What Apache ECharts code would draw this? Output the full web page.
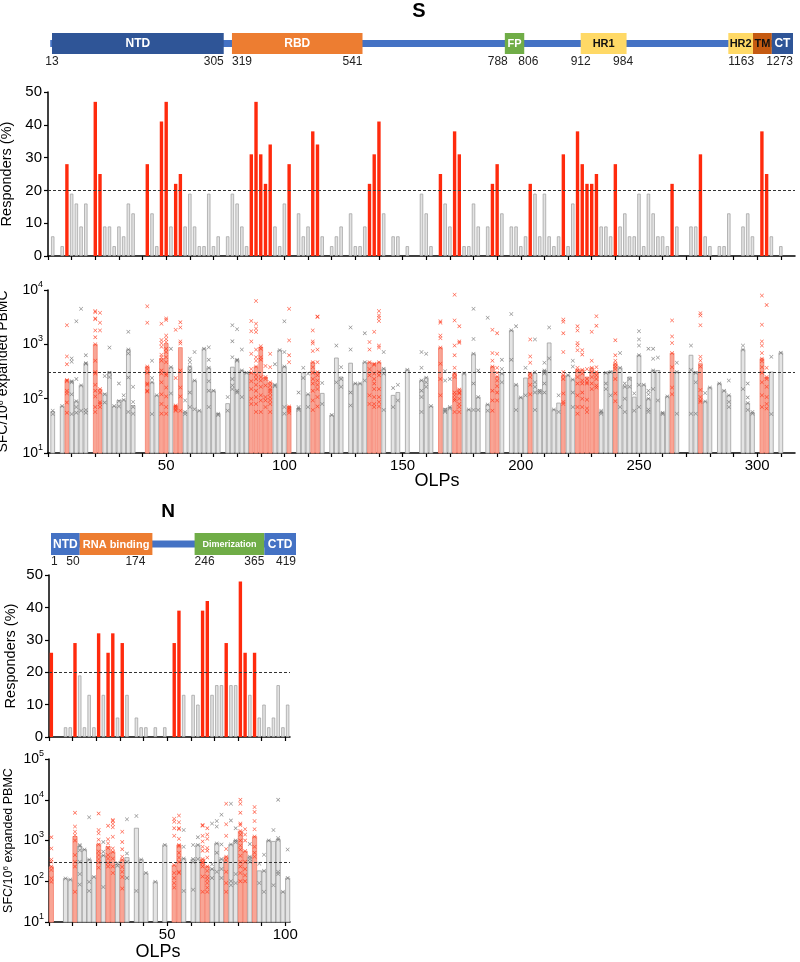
<!DOCTYPE html>
<html><head><meta charset="utf-8">
<script src="https://cdn.jsdelivr.net/npm/echarts@6/dist/echarts.min.js"></script>
<style>html,body{margin:0;padding:0;background:#fff}#c{width:800px;height:962px}</style>
</head><body><div id="c"></div><script>
// ---------------- S protein data ----------------
const sOlp = [2,6,8,10,12,14,16,20,22,24, 26,28,30,32,34,36,42,44,46,48, 50,52,54,56,58,60,62,64,66,68,
  70,72,76,78,80,82,84,86,88,90, 92,94,96,98,100,102,106,108,110,112, 114,116,120,122,124,128,130,132,134,136,
  138,140,142,146,148,152,
  158,160,162,166,168,170,172,174,176,178, 180,182,186,188,190,192,196,198,200,202, 204,206,208,210,212,214,216,218,220,222,
  224,226,228,230,232,234,236,238,240,242, 244,246,248,250,252,254,256,258,260,262, 264,266,272,274,276,278,280,284,286,288,
  294,296,298,302,304,306,310];
const sResp = [6,3,28,19,16,9,16,47,25,9, 9,3,9,6,16,13,28,13,3,41, 47,9,22,25,9,19,9,3,3,19,
  3,6,6,19,16,9,3,31,47,31, 22,34,9,3,16,28,13,6,9,38, 34,6,3,6,9,13,3,3,9,22,
  31,41,13,6,6,3,
  19,13,3,25,16,9,38,31,3,3, 16,9,9,22,28,13,9,9,3,6, 22,19,6,19,6,3,6,31,3,16,
  38,28,22,22,25,9,9,6,28,9, 13,6,6,19,3,19,13,6,6,3, 22,9,9,9,31,6,3,3,3,13,
  9,13,6,38,25,6,3];
const sSfcBar = [58,73,224,210,90,176,450,1000,150,123, 310,73,93,95,800,75,390,200,115,545,
  1030,380,75,870,57,390,215,60,830,370, 140,53,81,380,520,330,300,300,390,890,
  250,200,180,780,390,72,66,300,120,470, 310,125,50,560,250,450,190,190,470,470,
  440,470,355,115,130,340,
  217,243,73,870,66,70,290,150,290,63, 670,107,78,390,255,290,1810,180,105,240,
  290,290,145,330,1060,63,83,270,270,225, 340,340,250,370,310,57,300,320,440,370,
  170,250,107,630,180,100,330,330,55,110, 690,310,630,310,440,89,160,190,140,115,
  800,83,55,545,250,310,700];
const sSfcPts = [
  [60,52],[73],[2250,600,430,220,210,140,125,85,55],[550,480,210,200,120,52],[2650,230,90,70,55],
  [4500,175,60],[630,450,440,62,55],[4100,3900,3000,2900,1800,1350,1000,500,310,290,180,140,110,70,57],
  [3800,2500,1800,150,130,86,80,70],[260,120,85],
  [870,300,250],[73],[190,90,72],[115,95],[1700,800,680,245,57],[165,87,70,53],
  [5000,2500,390,350,300,190,180,140,135],[500,240,200,52],[115],
  [2400,1200,1050,900,640,580,500,330,290,200,120,80,53],
  [3000,2800,1450,1250,1100,830,720,580,470,290,270,160,110,70,53],[830,380,125],
  [1850,240,75,72,68,63,60],[2550,2050,1130,1040,330,160,110,60],[93,57,52],[545,470,390,330,130,70],
  [720,215,64],[60],[830],[880,520,370,210,140,70],
  [140],[53,50],[107,60],[2250,1140,580,230,175,150],[1900,520,500,140,130],[800,330,107],[300],
  [2700,1750,1130,670,350,300,210,150,100,80],
  [6300,2400,1950,1680,800,580,500,390,270,230,180,140,107,80,57],
  [920,830,580,520,250,215,165,115,93,57],
  [400,250,230,175,107,93,70],[670,380,200,175,150,140,125,107,93,80,57],[430,180,170],[780],
  [2650,720,390,70,53],[4500,1180,630,470,72,68,64,60,55],[130,70,66,62],[370,240],[290,120,70],
  [1800,1130,1040,750,470,380,300,230,190,140,93,62],
  [3250,3200,800,470,310,270,215,180,150,107,72],[195,80],[50],[950,200],[380,230,165],[2050,800,130,75],
  [190],[190],[1600,470,215],[1100,800,470,350,270,115,80],
  [1700,440,420,290,230,190,150,107,80,70],[4100,3400,3100,2700,950,870,470,310,270,150,107,87,72],
  [720,355,290,62],[157,70],[180,93],[340],
  [720,370,217,140,107,57],[670,243,200,165],[73],[2650,2500,1450,1300,870,440,230,115],[320,215,63,60,57],
  [230,70,66],[8200,2750,950,630,370,290,250,130,115,100,93,57],[2150,1130,1070,147,130,125,100,80,70,57],
  [290],[63],
  [4500,1260,670,190,62],[330,107,62],[3100,78,60],[1850,690,500,390,140,93,60],
  [1600,670,370,300,255,215,170,130,93],[520,350,290,200],[3600,1810,520],[2150,180,62],[105],[370,115],
  [1230,600,460,290,250,180,120],[1230,310,200,165,130,62],[140,130],[460,330,310,290,190,130],[2050,550],
  [63],[115,57],[2850,2600,1600,720,310,270,230,125,87,80],[270],[500,390,225,130,70],
  [2150,1800,1060,950,780,370,330,250,190,115,70,53],[780,650,340,290,215,190,130,100,70],
  [350,230,200,190,96,66,57],[1700,500,370,310,250,190,150],[3300,2200,380,310,270,230,175,160],
  [60,57,53],[300,190,150],[310,115],[1190,630,500,440,390,350,230,125,90],[690,370,70],
  [190,165,100,57],[230,165],[125,60],[1750,1230,950,630,180,70],[180],[830,140,120,100,63,57],
  [830,545,330,150],[570,93],[55,52],[110],
  [2750,1400,1060,690,380,160,120],[460,310,53],[950,340,53],[300,200,53],
  [3750,3400,2250,590,500,390,145,107,93,87],[127,89],[160],[190],[140],[215,115,87,70],
  [950,800,150],[190,105,83,62],[57,53],[7900,2300,1130,950,690,545,490,380,300,200,115,70],
  [5300,370,250,230,165,107,80,66],[590,52],[700]
];
// ---------------- N protein data ----------------
const nOlp = [1,7,9,11,13,15,17,19,21,23, 25,27,29,31,33,37,39,41,45,49, 53,55,57,61,63,65,67,69,71,73,
  75,77,79,81,83,85,87,89,91,93, 95,97,99,101];
const nResp = [26,3,3,29,19,3,13,3,32,13, 26,32,6,29,13,6,3,3,3,3, 29,39,13,13,10,39,42,13,16,16,
  29,16,16,48,26,13,26,6,10,3, 6,16,3,10];
const nSfcBar = [227,117,110,1250,730,600,340,128,820,430, 710,530,260,340,380,2000,340,160,97,780,
  250,780,360,350,780,350,230,200,850,350, 400,800,1000,1700,550,400,1250,180,180,1000, 950,1050,55,120];
const nSfcPts = [
  [1200,640,340,300,230,190,118,97],[117],[110],[4800,2200,1650,1350,1000,440,300,230,55],
  [780,730,580,300,150,83],[600],[3700,340,97,58],[128],[4600,1800,1500,1050,800,540,440,350,290,215],
  [920,530,430,72],
  [2300,1070,850,650,440,360,280,230],[3200,3000,2550,2100,1230,640,530,360,230,160],[280,240],
  [1650,920,610,400,340,225,170,128,66],[3300,480,300,120],[4000,58],[340],[160],[97],[780],
  [3400,2900,2000,1300,250,160,120,90,70],[4100,2800,2000,1900,1100,780,720,500,380,300,170,160],
  [1800,700,360,58],[780,350,300,62],[1200,780,350],[2400,2300,1300,950,700,560,350,300,280,230,130,55],
  [2000,1400,1100,650,560,380,230,180,130,110,90,70,55],[2600,260,200,120],[3000,2200,850,500,170],
  [4300,800,350,200,120],
  [8000,2500,1300,620,400,330,170,90,55],[8000,3100,800,100,80],[2000,1000,900,150,90],
  [10000,8000,4800,2600,2400,1700,1400,1000,750,600,420,300,230,160,100],
  [1900,1400,1000,550,300,200,140,100],[820,400,350,300],[6600,5000,3000,1900,1250,700,500,400],
  [270,90],[450,180,55],[1000],
  [1800,80],[10000,1150,1050,170,150],[55],[600,120]
];
// ---------------- domain maps ----------------
const sDomainName = ['NTD','RBD','FP','HR1','HR2','TM','CT'];
const sDomainStart = [13,319,783,912,1163,1205,1237];
const sDomainEnd = [305,541,816,990,1205,1237,1273];
const sBackbone = [10,1273];
const sPosLabels = [13,305,319,541,788,806,912,984,1163,1273];
const nDomainName = ['NTD','RNA binding','Dimerization','CTD'];
const nDomainStart = [1,50,246,365];
const nDomainEnd = [50,174,365,419];
const nBackbone = [1,419];
const nPosLabels = [1,50,174,246,365,419];
// ticks
const sTicks = [0,10,20,30,40,50,60,70,80,90,100,110,120,130,140,150,160,170,180,190,200,210,220,230,240,250,260,270,280,290,300,310];
const sTickLabels = [50,100,150,200,250,300];
const nTicks = [0,10,20,30,40,50,60,70,80,90,100];
const nTickLabels = [50,100];
const respThreshold = 20, sfcThreshold = 300;

// ---------------- styles ----------------
const FONT = '"Liberation Sans", Arial, Helvetica, sans-serif';
const sDomainFill = ['#2f5597','#ed7d31','#70ad47','#ffd966','#ffd966','#c55a11','#2f5597'];
const sDomainTextColor = ['#fff','#fff','#fff','#111','#111','#111','#fff'];
const sDomainFont = [12,12,11,11,11,11,12];
const sPosAlign = ['center','right','left','right','right','left','center','center','left','right'];
const nDomainFill = ['#4472c4','#ed7d31','#70ad47','#4472c4'];
const nDomainTextColor = ['#fff','#fff','#fff','#fff'];
const nDomainFont = [12,11,9,12];
const nPosAlign = ['left','right','right','left','right','right'];
const nPosShift = [0,0,-7,0,0,0];
const sPosShift = [0,0,0,0,0,0,0,0,0,0];
const X_PATH = 'path://M1,0L5,4L9,0L10,1L6,5L10,9L9,10L5,6L1,10L0,9L4,5L0,1Z';
const RED = '#ff2a0d';

const chart = echarts.init(document.getElementById('c'), null, {renderer:'canvas'});

function domainSeries(xi, starts, ends, names, fills, tcol, fsz) {
  return {type:'custom', xAxisIndex:xi, yAxisIndex:xi, z:3, silent:true,
    data: starts.map((s,i)=>[s, ends[i], i]),
    renderItem:(p, api)=>{
      const i = api.value(2);
      const a = api.coord([api.value(0),1]), b = api.coord([api.value(1),0]);
      return {type:'group', children:[
        {type:'rect', shape:{x:a[0], y:a[1], width:b[0]-a[0], height:b[1]-a[1]}, style:{fill:fills[i]}},
        {type:'text', x:(a[0]+b[0])/2, y:(a[1]+b[1])/2+0.5, style:{text:names[i], fill:tcol[i],
          font:'bold '+fsz[i]+'px '+FONT, align:'center', verticalAlign:'middle'}}
      ]};
    }};
}
function backboneSeries(xi, bb, color) {
  return {type:'custom', xAxisIndex:xi, yAxisIndex:xi, z:2, silent:true, data:[[bb[0], bb[1]]],
    renderItem:(p, api)=>{
      const a = api.coord([api.value(0),0.5]), b = api.coord([api.value(1),0.5]);
      return {type:'rect', shape:{x:a[0], y:a[1]-3.5, width:b[0]-a[0], height:7}, style:{fill:color}};
    }};
}
function posLabelSeries(xi, vals, aligns, shifts, dy) {
  return {type:'custom', xAxisIndex:xi, yAxisIndex:xi, z:3, silent:true, data: vals.map((v,i)=>[v,i]),
    renderItem:(p, api)=>{
      const i = api.value(1); const a = api.coord([api.value(0),0]);
      return {type:'text', x:a[0]+shifts[i], y:a[1]+dy, style:{text:String(api.value(0)), align:aligns[i],
        verticalAlign:'top', font:'12px '+FONT, fill:'#222'}};
    }};
}
function respSeries(xi, olp, resp, w) {
  return {type:'bar', xAxisIndex:xi, yAxisIndex:xi, barWidth:w, silent:true,
    data: olp.map((x,i)=>({value:[x, resp[i]], itemStyle: resp[i] > respThreshold ?
      {color:RED} : {color:'#e3e3e3', borderColor:'#a6a6a6', borderWidth:0.8}})),
    markLine:{silent:true, symbol:['none','none'], label:{show:false}, animation:false,
      lineStyle:{type:[3,2], color:'#333', width:1}, data:[{yAxis:respThreshold}]}};
}
function sfcBarSeries(xi, olp, bar, resp, w) {
  return {type:'custom', xAxisIndex:xi, yAxisIndex:xi, silent:true, z:2,
    data: olp.map((x,i)=>[x, bar[i], resp[i] > respThreshold ? 1 : 0]),
    renderItem:(p, api)=>{
      const t = api.coord([api.value(0), api.value(1)]);
      const b = api.coord([api.value(0), 10]);
      const red = api.value(2) === 1;
      return {type:'rect', shape:{x:t[0]-w/2, y:t[1], width:w, height:b[1]-t[1]},
        style:{fill: red ? '#f9a595' : '#e4e4e4', stroke: red ? '#f5806d' : '#a0a0a0', lineWidth:0.8}};
    }};
}
function ptsSeries(xi, olp, pts, resp, red, withLine) {
  const data = [];
  olp.forEach((x,i)=>{ if ((resp[i] > respThreshold) === red) pts[i].forEach(v=>data.push([x, v])); });
  const s = {type:'scatter', xAxisIndex:xi, yAxisIndex:xi, symbol:X_PATH, symbolSize:4, silent:true, z:5,
    itemStyle:{color: red ? RED : '#666'}, data};
  if (withLine) s.markLine = {silent:true, symbol:['none','none'], label:{show:false}, animation:false,
    lineStyle:{type:[3,2], color:'#333', width:1}, data:[{yAxis:sfcThreshold}]};
  return s;
}

const axisLineS = {show:true, onZero:false, lineStyle:{color:'#000', width:1.5}};
const tickS = {show:true, length:4, lineStyle:{color:'#000', width:1.2}};
function hiddenX(gi, min, max){ return {type:'value', gridIndex:gi, min, max, show:false}; }
function hiddenY(gi){ return {type:'value', gridIndex:gi, min:0, max:1, show:false}; }
function olpX(gi, max, ticks, labels, showLabels, fs) {
  return {type:'value', gridIndex:gi, min:0, max, splitLine:{show:false}, axisLine:axisLineS,
    axisTick:Object.assign({customValues:ticks}, tickS),
    axisLabel:{show:showLabels, customValues:labels, fontSize:fs, color:'#000', fontFamily:FONT, margin:5}};
}
function respY(gi, nameGap, fs) {
  return {type:'value', gridIndex:gi, min:0, max:50, interval:10, splitLine:{show:false},
    axisLine:axisLineS, axisTick:tickS,
    axisLabel:{fontSize:15, color:'#000', fontFamily:FONT, margin:6},
    name:'Responders (%)', nameLocation:'middle', nameGap, nameTextStyle:{fontSize:fs, color:'#000', fontFamily:FONT}};
}
function sfcY(gi, max, nameGap, fs) {
  return {type:'log', logBase:10, gridIndex:gi, min:10, max, splitLine:{show:false},
    axisLine:axisLineS, axisTick:tickS, minorTick:{show:false},
    axisLabel:{color:'#000', fontFamily:FONT, fontSize:14, lineHeight:20, margin:5,
      formatter:v=>'10{s|'+Math.round(Math.log10(v))+'}',
      rich:{s:{fontSize:9, verticalAlign:'top', lineHeight:10, fontFamily:FONT, color:'#000'}}},
    name:'SFC/10{s|6} expanded PBMC', nameLocation:'middle', nameGap,
    nameTextStyle:{fontSize:fs, color:'#000', fontFamily:FONT, lineHeight:fs+2,
      rich:{s:{fontSize:Math.round(fs*0.65), verticalAlign:'top', lineHeight:8, fontFamily:FONT, color:'#000'}}}};
}

const option = {
  animation:false,
  backgroundColor:'#fff',
  grid:[
    {left:52, right:7, top:33, height:21, containLabel:false, outerBoundsMode:'none'},
    {left:48, right:5, top:92, height:164, containLabel:false, outerBoundsMode:'none'},
    {left:48, right:5, top:290, height:163, containLabel:false, outerBoundsMode:'none'},
    {left:51, width:245, top:533, height:22, containLabel:false, outerBoundsMode:'none'},
    {left:49, width:241, top:575, height:162, containLabel:false, outerBoundsMode:'none'},
    {left:49, width:241, top:759, height:163, containLabel:false, outerBoundsMode:'none'}
  ],
  xAxis:[
    hiddenX(0, 13, 1273),
    olpX(1, 316, sTicks, sTickLabels, false, 15),
    olpX(2, 316, sTicks, sTickLabels, true, 15),
    hiddenX(3, 1, 419),
    olpX(4, 102, nTicks, nTickLabels, false, 15),
    olpX(5, 102, nTicks, nTickLabels, true, 15)
  ],
  yAxis:[
    hiddenY(0),
    respY(1, 33, 14.5),
    sfcY(2, 10000, 31, 14),
    hiddenY(3),
    respY(4, 31, 14.5),
    sfcY(5, 100000, 33, 12.5)
  ],
  graphic:[
    {type:'text', x:419, y:11, style:{text:'S', font:'bold 20px '+FONT, fill:'#000', align:'center', verticalAlign:'middle'}},
    {type:'text', x:168, y:512, style:{text:'N', font:'bold 19px '+FONT, fill:'#000', align:'center', verticalAlign:'middle'}},
    {type:'text', x:437, y:481, style:{text:'OLPs', font:'18px '+FONT, fill:'#000', align:'center', verticalAlign:'middle'}},
    {type:'text', x:158, y:952, style:{text:'OLPs', font:'18px '+FONT, fill:'#000', align:'center', verticalAlign:'middle'}}
  ],
  series:[
    backboneSeries(0, sBackbone, '#4472c4'),
    domainSeries(0, sDomainStart, sDomainEnd, sDomainName, sDomainFill, sDomainTextColor, sDomainFont),
    posLabelSeries(0, sPosLabels, sPosAlign, sPosShift, 2),
    respSeries(1, sOlp, sResp, 3.4),
    sfcBarSeries(2, sOlp, sSfcBar, sResp, 3.8),
    ptsSeries(2, sOlp, sSfcPts, sResp, false, true),
    ptsSeries(2, sOlp, sSfcPts, sResp, true, false),
    backboneSeries(3, nBackbone, '#4472c4'),
    domainSeries(3, nDomainStart, nDomainEnd, nDomainName, nDomainFill, nDomainTextColor, nDomainFont),
    posLabelSeries(3, nPosLabels, nPosAlign, nPosShift, 1),
    respSeries(4, nOlp, nResp, 3.4),
    sfcBarSeries(5, nOlp, nSfcBar, nResp, 4.2),
    ptsSeries(5, nOlp, nSfcPts, nResp, false, true),
    ptsSeries(5, nOlp, nSfcPts, nResp, true, false)
  ]
};
chart.setOption(option);
</script></body></html>
